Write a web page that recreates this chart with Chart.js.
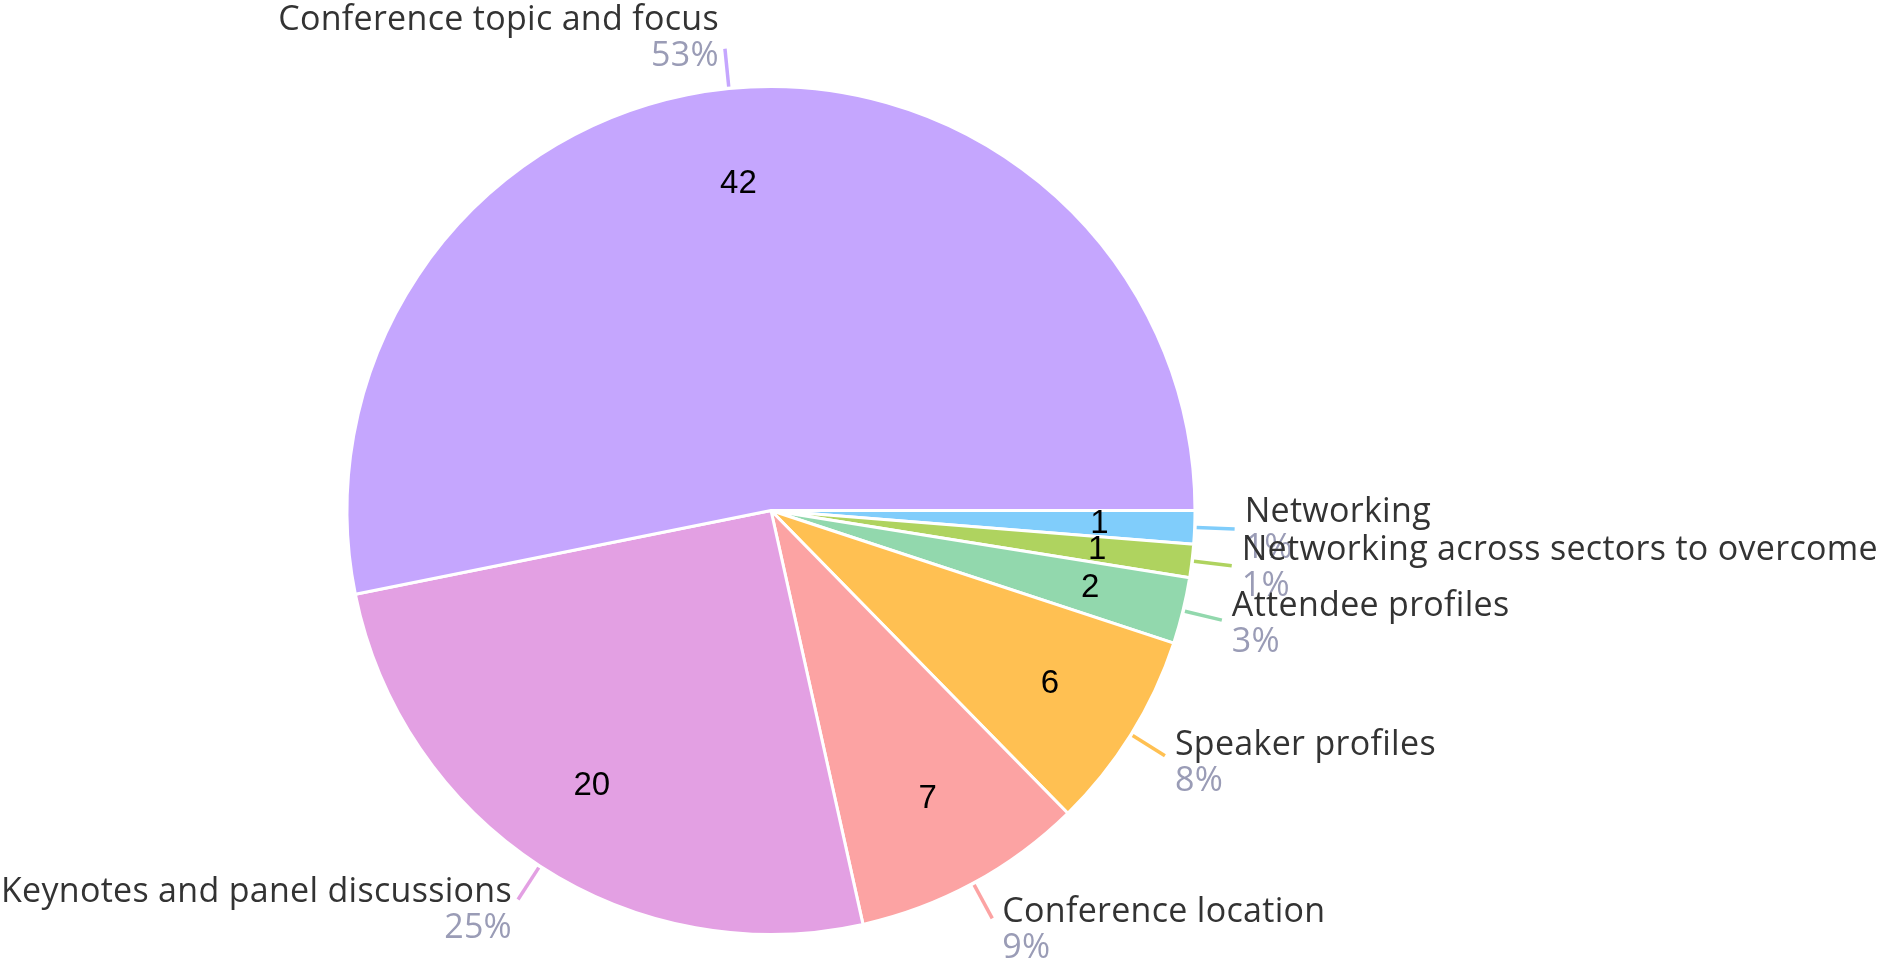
<!DOCTYPE html>
<html>
<head>
<meta charset="utf-8">
<script src="https://cdn.jsdelivr.net/npm/chart.js@4.4.1/dist/chart.umd.min.js"></script>
<style>
  html, body { margin: 0; padding: 0; background: #fff; }
  #wrap { width: 1888px; height: 966px; position: relative; overflow: hidden; }
</style>
</head>
<body>
<div id="wrap"><canvas id="pie" width="1888" height="966"></canvas></div>
<script>
// ===== Datos =====
const categorias = [
    'Networking',
    'Networking across sectors to overcome',
    'Attendee profiles',
    'Speaker profiles',
    'Conference location',
    'Keynotes and panel discussions',
    'Conference topic and focus'
];
const valores = [1, 1, 2, 6, 7, 20, 42];
const colores = ['#80cdfb', '#afd35f', '#92d8ad', '#ffc052', '#fca3a3', '#e3a0e3', '#c5a6fe'];

const FUENTE_ETIQ = '34px "Open Sans", Lato, sans-serif';
const FUENTE_VALOR = '33px "Liberation Sans", Arial, sans-serif';
const COLOR_ETIQ = '#333333';
const COLOR_PCT = '#9a9cb6';

const total = valores.reduce((a, b) => a + b, 0);

// Etiquetas: valor dentro, nombre y % fuera con linea guia
const etiquetasPie = {
    id: 'etiquetasPie',
    afterDatasetsDraw(chart) {
        const ctx = chart.ctx;
        const meta = chart.getDatasetMeta(0);
        ctx.save();
        meta.data.forEach((arc, i) => {
            const { x, y, startAngle, endAngle, outerRadius } = arc.getProps(['x', 'y', 'startAngle', 'endAngle', 'outerRadius'], true);
            const mid = (startAngle + endAngle) / 2;
            const cos = Math.cos(mid), sin = Math.sin(mid);

            // valor dentro del sector
            const rv = outerRadius * 0.775;
            ctx.letterSpacing = '0px';
            ctx.font = FUENTE_VALOR;
            ctx.fillStyle = '#000';
            ctx.textAlign = 'center';
            ctx.textBaseline = 'middle';
            ctx.fillText(String(valores[i]), x + cos * rv, y + sin * rv);

            // linea guia
            const r1 = outerRadius + 2, r2 = outerRadius + 40;
            const ex = x + cos * r2, ey = y + sin * r2;
            ctx.strokeStyle = colores[i];
            ctx.lineWidth = 3.5;
            ctx.beginPath();
            ctx.moveTo(x + cos * r1, y + sin * r1);
            ctx.lineTo(ex, ey);
            ctx.stroke();

            // nombre + porcentaje
            const derecha = cos >= 0;
            const tx = derecha ? ex + 10 : ex - 6;
            const cy = ey + sin * 12;
            ctx.textAlign = derecha ? 'left' : 'right';
            ctx.font = FUENTE_ETIQ;
            ctx.letterSpacing = '0.3px';
            ctx.fillStyle = COLOR_ETIQ;
            ctx.fillText(categorias[i], tx, cy - 17);
            ctx.fillStyle = COLOR_PCT;
            ctx.fillText(Math.round(valores[i] / total * 100) + '%', tx, cy + 19);
        });
        ctx.restore();
    }
};

new Chart(document.getElementById('pie'), {
    type: 'pie',
    data: {
        labels: categorias,
        datasets: [{
            data: valores,
            backgroundColor: colores,
            borderColor: '#ffffff',
            borderWidth: 3
        }]
    },
    options: {
        responsive: false,
        animation: false,
        rotation: 90,
        layout: { padding: { top: 85, bottom: 30, left: 0, right: 346 } },
        plugins: {
            legend: { display: false },
            tooltip: { enabled: false }
        }
    },
    plugins: [etiquetasPie]
});
</script>
</body>
</html>
